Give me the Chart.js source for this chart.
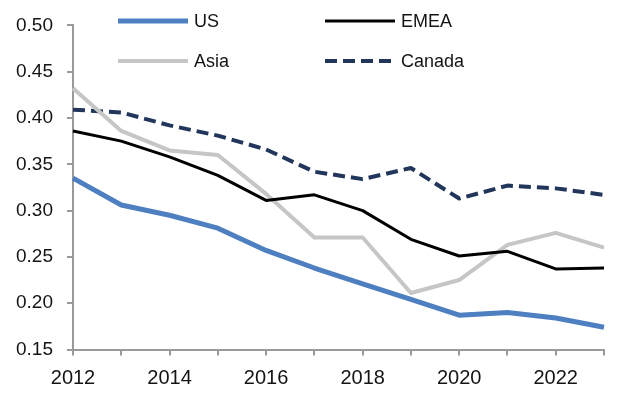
<!DOCTYPE html>
<html>
<head>
<meta charset="utf-8">
<script src="https://cdn.jsdelivr.net/npm/chart.js@4"></script>
<style>
  html, body { margin:0; padding:0; background:#fff; }
  #wrap { width:643px; height:397px; position:relative; }
</style>
</head>
<body>
<div id="wrap"><canvas id="chart" width="643" height="397"></canvas></div>
<script>
// data
const years = ['2012','2013','2014','2015','2016','2017','2018','2019','2020','2021','2022','2023'];
const us     = [0.335, 0.306, 0.295, 0.281, 0.257, 0.238, 0.221, 0.204, 0.187, 0.190, 0.184, 0.174];
const emea   = [0.386, 0.375, 0.358, 0.338, 0.311, 0.317, 0.300, 0.269, 0.251, 0.256, 0.237, 0.238];
const asia   = [0.432, 0.386, 0.365, 0.360, 0.318, 0.271, 0.271, 0.211, 0.225, 0.263, 0.276, 0.260];
const canada = [0.409, 0.406, 0.392, 0.381, 0.366, 0.342, 0.334, 0.346, 0.313, 0.327, 0.324, 0.317];
const yTicks = [0.15, 0.20, 0.25, 0.30, 0.35, 0.40, 0.45, 0.50];

const FONT = '"Liberation Sans", Arial, sans-serif';
const TEXT = '#141414';
const AXIS = '#9a9a9a';

// legend laid out 2x2 like the original
const legendSpots = [
    {x:118, y:21}, // US
    {x:325, y:21}, // EMEA
    {x:118, y:61}, // Asia
    {x:325, y:61}  // Canada
];

const legendPlugin = {
    id: 'gridLegend',
    afterDraw(chart){
        const ctx = chart.ctx;
        chart.data.datasets.forEach((ds, i) => {
            const p = legendSpots[i];
            ctx.save();
            ctx.strokeStyle = ds.borderColor;
            ctx.lineWidth = ds.borderWidth;
            ctx.lineCap = 'butt';
            ctx.setLineDash(ds.borderDash || []);
            ctx.beginPath();
            ctx.moveTo(p.x, p.y);
            ctx.lineTo(p.x + 70, p.y);
            ctx.stroke();
            ctx.setLineDash([]);
            ctx.fillStyle = TEXT;
            ctx.font = '18px ' + FONT;
            ctx.textBaseline = 'middle';
            ctx.fillText(ds.label, p.x + 76, p.y + 1);
            ctx.restore();
        });
    }
};

const line = (label, data, color, width, dash) => ({
    label, data,
    borderColor: color,
    backgroundColor: color,
    borderWidth: width,
    borderDash: dash || [],
    pointRadius: 0,
    tension: 0,
    fill: false,
    borderJoinStyle: 'round'
});

new Chart(document.getElementById('chart'), {
    type: 'line',
    data: {
        labels: years,
        datasets: [
            line('US', us, '#4e7fc0', 5),
            line('EMEA', emea, '#000000', 3),
            line('Asia', asia, '#c6c6c6', 4),
            line('Canada', canada, '#22355a', 4, [12, 6])
        ]
    },
    options: {
        responsive: false,
        animation: false,
        layout: { padding: { top: 25, right: 39, left: 0, bottom: 0 } },
        plugins: { legend: { display: false }, tooltip: { enabled: false } },
        scales: {
            x: {
                offset: false,
                afterFit(s){ s.height = 47.5; },
                grid: { drawOnChartArea: false, drawTicks: true, tickLength: 6, color: AXIS, lineWidth: 2 },
                border: { color: AXIS, width: 2 },
                ticks: {
                    autoSkip: false, maxRotation: 0, padding: 11,
                    color: TEXT, font: { family: FONT, size: 20 },
                    callback(v, i){ return i % 2 === 0 ? years[i] : ''; }
                }
            },
            y: {
                min: yTicks[0], max: yTicks[yTicks.length - 1],
                afterFit(s){ s.width = 73; },
                afterBuildTicks(s){ s.ticks = yTicks.map(v => ({ value: v })); },
                grid: { drawOnChartArea: false, drawTicks: true, tickLength: 6, color: AXIS, lineWidth: 2 },
                border: { color: AXIS, width: 2 },
                ticks: {
                    padding: 14, color: TEXT, font: { family: FONT, size: 19 },
                    callback(v){ return Number(v).toFixed(2); }
                }
            }
        }
    },
    plugins: [legendPlugin]
});
</script>
</body>
</html>
